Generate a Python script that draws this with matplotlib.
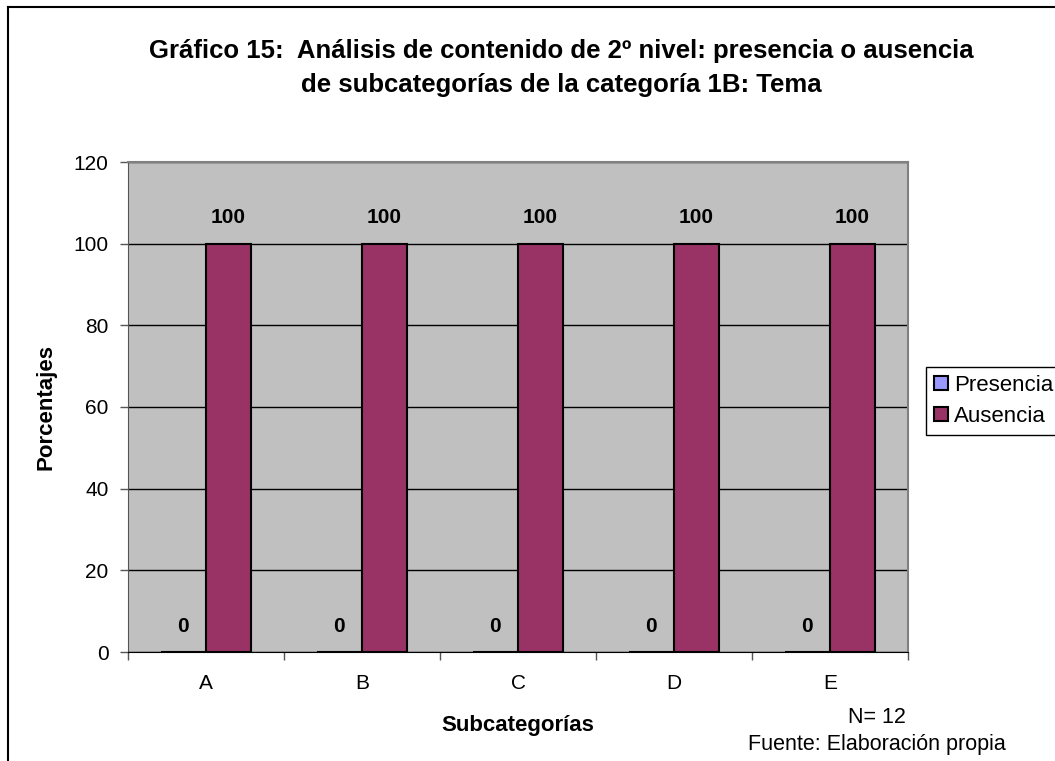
import numpy as np
import matplotlib.pyplot as plt
from matplotlib.lines import Line2D

plt.rcParams['font.family'] = ['Liberation Sans', 'DejaVu Sans']

categories = ['A', 'B', 'C', 'D', 'E']
presencia = [0, 0, 0, 0, 0]
ausencia = [100, 100, 100, 100, 100]
yticks = [0, 20, 40, 60, 80, 100, 120]

fig = plt.figure(figsize=(10.55, 7.61), dpi=100)
ax = fig.add_axes([128 / 1055, 1 - 652 / 761, 780 / 1055, 490 / 761])
ax.set_facecolor('#C0C0C0')

x = np.arange(len(categories))
w = 0.29
b1 = ax.bar(x - w, presencia, w, align='edge', color='#9999FF', edgecolor='black', linewidth=1.5, label='Presencia', zorder=3)
b2 = ax.bar(x, ausencia, w, align='edge', color='#993366', edgecolor='black', linewidth=1.5, label='Ausencia', zorder=3)

for bars, vals in [(b1, presencia), (b2, ausencia)]:
    for r, v in zip(bars, vals):
        ax.annotate(str(v), (r.get_x() + r.get_width() / 2, v), xytext=(0, 18.5), textcoords='offset points',
                    ha='center', va='center', fontsize=15, fontweight='bold')

ax.set_xlim(-0.5, len(categories) - 0.5)
ax.set_ylim(0, 120)
ax.set_yticks(yticks)
ax.yaxis.grid(True, color='black', linewidth=1, zorder=1)
ax.set_axisbelow(True)
ax.set_xticks(x)
ax.set_xticklabels(categories)
ax.set_xticks(np.arange(-0.5, len(categories)), minor=True)
ax.tick_params(axis='x', which='major', length=0, pad=16, labelsize=15)
ax.tick_params(axis='x', which='minor', length=6, width=1, direction='out', color='#555555')
ax.tick_params(axis='y', length=6, width=1, labelsize=15, pad=8, color='#555555')

for s in ['top', 'right']:
    ax.spines[s].set_color('#808080')
    ax.spines[s].set_linewidth(1.5)
ax.spines['left'].set_color('#555555')
ax.spines['bottom'].set_color('black')

ax.set_ylabel('Porcentajes', fontsize=16, fontweight='bold', labelpad=12)
ax.set_xlabel('Subcategorías', fontsize=16, fontweight='bold', labelpad=16)

fig.text(561 / 1055, 1 - 68 / 761,
         'Gráfico 15:  Análisis de contenido de 2º nivel: presencia o ausencia\nde subcategorías de la categoría 1B: Tema',
         ha='center', va='center', fontsize=18.5, fontweight='bold', linespacing=1.5)

leg = fig.legend(loc='upper left', bbox_to_anchor=(926 / 1055, 1 - 367 / 761), fontsize=16,
                 frameon=True, fancybox=False, edgecolor='black', framealpha=1,
                 handlelength=0.65, handleheight=0.65, handletextpad=0.25, borderpad=0.35,
                 labelspacing=0.45, borderaxespad=0)
leg.get_frame().set_linewidth(1)

fig.text(877 / 1055, 1 - 731 / 761, 'N= 12\nFuente: Elaboración propia', ha='center', va='center',
         fontsize=15.5, linespacing=1.4)

fig.add_artist(Line2D([8 / 1055, 1], [1 - 7 / 761, 1 - 7 / 761], color='black', linewidth=1.5))
fig.add_artist(Line2D([8 / 1055, 8 / 1055], [0, 1 - 7 / 761], color='black', linewidth=1.5))

fig.savefig('out.png', dpi=100)
